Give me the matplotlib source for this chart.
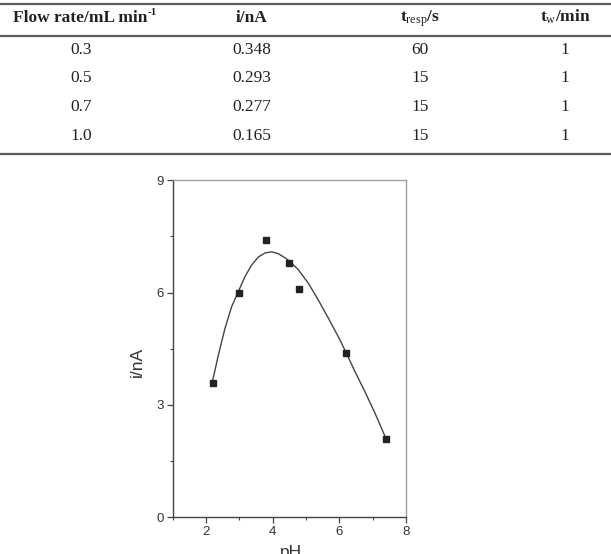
"""
Table of flow-rate results above a pH response plot (i/nA vs pH)
"""
import matplotlib
matplotlib.use('Agg')

import matplotlib.pyplot as plt
from matplotlib.lines import Line2D

plt.rcParams['mathtext.fontset'] = 'custom'
plt.rcParams['mathtext.rm'] = 'Liberation Serif'
plt.rcParams['mathtext.bf'] = 'Liberation Serif:bold'
plt.rcParams['mathtext.it'] = 'Liberation Serif:italic'

# table
headers = ["Flow rate/mL min", "i/nA",
           r"t$_{\mathrm{resp}}$/s", r"t$_{\mathrm{w}}$/min"]
flow_rate = ["0.3", "0.5", "0.7", "1.0"]
current = ["0.348", "0.293", "0.277", "0.165"]
t_resp = ["60", "15", "15", "15"]
t_w = ["1", "1", "1", "1"]

# scatter points
ph = [2.2, 3.0, 3.8, 4.5, 4.8, 6.2, 7.4]
i_na = [3.6, 6.0, 7.4, 6.8, 6.1, 4.4, 2.1]

# smoothed curve
curve_ph = [2.19, 2.37, 2.57, 2.77, 2.97, 3.17, 3.37, 3.57, 3.77, 3.97, 4.17,
            4.37, 4.52, 4.77, 5.07, 5.37, 5.67, 5.97, 6.17, 6.47, 6.77, 7.07,
            7.40]
curve_i = [3.62, 4.33, 5.05, 5.63, 6.03, 6.43, 6.74, 6.95, 7.06, 7.09, 7.04,
           6.93, 6.83, 6.61, 6.25, 5.80, 5.32, 4.82, 4.46, 3.89, 3.35, 2.78,
           2.10]

W, H = 611, 554
fig = plt.figure(figsize=(W / 100, H / 100), dpi=100)

def fy(py):
    return 1 - py / H

# table rules
for py in [4, 36, 154]:
    fig.add_artist(Line2D([0, 1], [fy(py), fy(py)], transform=fig.transFigure,
                          color='#5a5a5a', lw=1.6))

col_x = [81, 252, 420, 565]
row_y = [54, 82.5, 111, 139.5]
for i, (cx, txt) in enumerate(zip(col_x, headers)):
    if i == 0:
        # first header ends with a small "-1" superscript
        fig.text(147 / W, fy(21.7), txt, ha='right', va='baseline',
                 family='Liberation Serif', fontweight='bold', fontsize=12.5,
                 color='#222222')
        fig.text(147.5 / W, fy(15), "-1", ha='left', va='baseline',
                 family='Liberation Serif', fontweight='bold', fontsize=8,
                 color='#222222')
        continue
    fig.text(cx / W, fy(21.7), txt, ha='center', va='baseline',
             family='Liberation Serif', fontweight='bold', fontsize=12.5,
             color='#222222')
for col, cx in zip([flow_rate, current, t_resp, t_w], col_x):
    for val, ry in zip(col, row_y):
        fig.text(cx / W, fy(ry), val, ha='center', va='baseline',
                 family='Liberation Serif', fontsize=12.5, color='#222222')

# plot
ax = fig.add_axes([172.7 / W, 1 - 517.3 / H, (406 - 172.7) / W, (517.3 - 180.3) / H])
ax.plot(curve_ph, curve_i, color='#444444', lw=1.0)
ax.plot(ph, i_na, 's', color='#222222', ms=4.5)

ax.set_xlim(1, 8)
ax.set_ylim(0, 9)
ax.set_xticks([2, 4, 6, 8])
ax.set_xticks([1, 3, 5, 7], minor=True)
ax.set_yticks([0, 3, 6, 9])
ax.set_yticks([1.5, 4.5, 7.5], minor=True)
ax.tick_params(which='major', direction='out', length=4.3, width=0.9,
               pad=1.8, labelsize=9.5, colors='#444444', labelcolor='#333333')
ax.tick_params(which='minor', direction='out', length=2.5, width=0.8,
               colors='#444444')
ax.tick_params(top=False, right=False, which='both')
for lab in ax.get_xticklabels() + ax.get_yticklabels():
    lab.set_family('Liberation Sans')

ax.spines['left'].set_color('#444444')
ax.spines['bottom'].set_color('#444444')
ax.spines['top'].set_color('#a0a0a0')
ax.spines['right'].set_color('#a0a0a0')
for s in ax.spines.values():
    s.set_linewidth(1.0)

ax.set_ylabel('i/nA', family='Liberation Sans', fontsize=12.5, color='#333333')
ax.yaxis.set_label_coords(-0.119, 0.461)
# x label sits partly below the bottom edge, as in the original
fig.text(291 / W, fy(557), 'pH', ha='center', va='baseline',
         family='Liberation Sans', fontsize=12.5, color='#333333')

fig.savefig('out.png', dpi=100)
